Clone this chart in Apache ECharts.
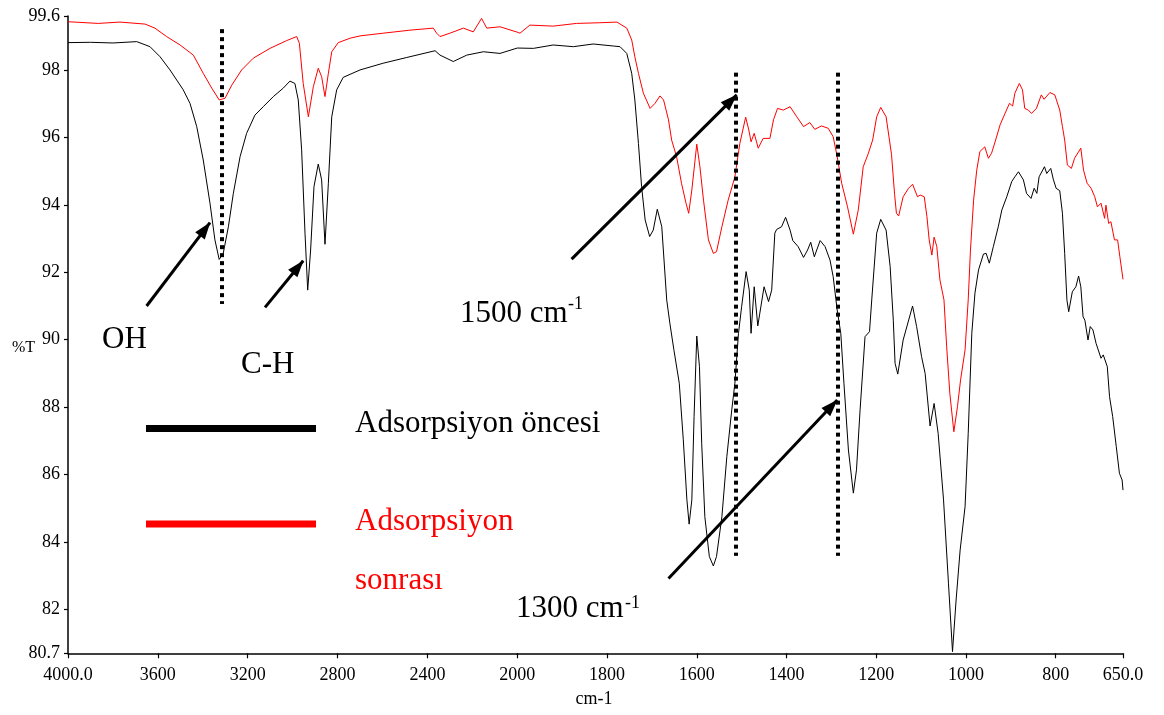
<!DOCTYPE html>
<html>
<head>
<meta charset="utf-8">
<script src="https://cdn.jsdelivr.net/npm/echarts@6/dist/echarts.min.js"></script>
<style>
  html, body { margin: 0; padding: 0; background: #fff; }
  #chart { width: 1164px; height: 715px; }
</style>
</head>
<body>
<div id="chart"></div>
<script>
// FTIR spectra, [wavenumber cm-1, %T]
const oncesi = [
  [4000, 98.81], [3900, 98.82], [3800, 98.80], [3694, 98.84], [3635, 98.69], [3590, 98.39],
  [3546, 98.00], [3487, 97.41], [3457, 97.01], [3427, 96.32], [3398, 95.33], [3368, 94.05],
  [3346, 92.96], [3327, 92.38], [3309, 92.56], [3286, 93.35], [3264, 94.34], [3234, 95.43],
  [3205, 96.12], [3168, 96.66], [3131, 96.91], [3086, 97.21], [3042, 97.46], [3012, 97.67],
  [2990, 97.60], [2975, 97.11], [2960, 95.63], [2945, 93.16], [2933, 91.47], [2920, 92.66],
  [2905, 94.54], [2886, 95.21], [2871, 94.74], [2856, 92.83], [2841, 94.64], [2826, 96.61],
  [2804, 97.41], [2775, 97.78], [2700, 98.00], [2597, 98.20], [2492, 98.37], [2366, 98.57],
  [2344, 98.44], [2285, 98.25], [2225, 98.44], [2151, 98.54], [2077, 98.49], [2000, 98.65],
  [1964, 98.64], [1920, 98.74], [1875, 98.69], [1831, 98.77], [1786, 98.71], [1771, 98.69],
  [1756, 98.49], [1745, 97.90], [1738, 97.11], [1730, 95.82], [1723, 94.54], [1715, 93.55],
  [1705, 93.06], [1697, 93.25], [1688, 93.87], [1678, 93.35], [1667, 91.18], [1660, 90.49],
  [1651, 89.70], [1639, 88.71], [1630, 87.03], [1622, 85.25], [1617, 84.53], [1611, 85.25],
  [1606, 87.72], [1600, 90.11], [1594, 89.20], [1589, 86.93], [1582, 84.75], [1572, 83.57],
  [1563, 83.29], [1556, 83.57], [1544, 84.75], [1533, 86.53], [1522, 87.92], [1515, 88.71],
  [1507, 90.19], [1500, 90.98], [1490, 92.02], [1483, 91.47], [1479, 90.19], [1472, 91.57],
  [1464, 90.41], [1450, 91.57], [1440, 91.13], [1433, 91.47], [1426, 93.16], [1422, 93.27],
  [1411, 93.35], [1402, 93.63], [1392, 93.25], [1386, 92.94], [1374, 92.76], [1362, 92.44],
  [1353, 92.66], [1346, 92.89], [1338, 92.46], [1325, 92.94], [1314, 92.76], [1303, 92.36],
  [1296, 91.87], [1287, 90.88], [1279, 90.19], [1272, 88.71], [1262, 86.73], [1251, 85.45],
  [1244, 86.14], [1236, 87.92], [1225, 90.09], [1215, 90.24], [1210, 91.18], [1199, 93.16],
  [1190, 93.57], [1178, 93.25], [1169, 92.17], [1162, 90.58], [1158, 89.30], [1152, 88.98],
  [1140, 89.99], [1119, 91.00], [1110, 90.39], [1099, 89.50], [1091, 89.00], [1080, 87.44],
  [1071, 88.11], [1062, 87.22], [1050, 85.25], [1039, 82.78], [1030, 80.75], [1022, 82.28],
  [1013, 83.76], [1002, 85.05], [995, 87.22], [987, 90.19], [980, 91.38], [972, 92.07],
  [961, 92.54], [955, 92.56], [948, 92.27], [939, 92.76], [928, 93.35], [920, 93.85],
  [909, 94.24], [898, 94.69], [891, 94.83], [883, 94.98], [872, 94.74], [865, 94.34],
  [855, 94.19], [848, 94.49], [842, 94.34], [837, 94.83], [825, 95.13], [820, 94.93],
  [811, 95.08], [805, 94.74], [799, 94.49], [791, 94.42], [785, 93.75], [780, 92.56],
  [775, 91.18], [771, 90.83], [763, 91.42], [755, 91.57], [749, 91.89], [744, 91.57],
  [739, 90.68], [735, 90.58], [728, 89.99], [723, 90.39], [717, 90.29], [710, 89.89],
  [699, 89.45], [694, 89.55], [685, 89.20], [680, 88.31], [673, 87.72], [665, 86.83],
  [658, 86.04], [652, 85.84], [650, 85.54]
]

const sonrasi = [
  [4000, 99.43], [3865, 99.38], [3769, 99.42], [3657, 99.36], [3613, 99.24], [3561, 98.99],
  [3501, 98.74], [3442, 98.44], [3398, 97.90], [3360, 97.46], [3327, 97.11], [3301, 97.16],
  [3271, 97.55], [3227, 98.00], [3175, 98.35], [3101, 98.64], [3027, 98.87], [2982, 98.99],
  [2970, 98.79], [2953, 97.60], [2930, 96.61], [2908, 97.50], [2886, 98.05], [2871, 97.80],
  [2856, 97.21], [2841, 97.90], [2826, 98.54], [2797, 98.81], [2745, 98.94], [2700, 99.01],
  [2597, 99.09], [2478, 99.18], [2374, 99.24], [2359, 99.09], [2344, 98.99], [2300, 99.09],
  [2240, 99.24], [2196, 99.13], [2159, 99.53], [2136, 99.24], [2077, 99.28], [2000, 99.12],
  [1994, 99.09], [1972, 99.33], [1920, 99.30], [1868, 99.38], [1816, 99.40], [1778, 99.42],
  [1756, 99.24], [1745, 98.89], [1738, 98.39], [1730, 97.90], [1719, 97.31], [1704, 96.86],
  [1693, 97.01], [1682, 97.23], [1674, 97.11], [1663, 96.52], [1656, 95.92], [1645, 95.43],
  [1634, 94.64], [1624, 94.05], [1618, 93.75], [1611, 94.44], [1600, 95.80], [1593, 95.13],
  [1585, 94.14], [1574, 92.96], [1563, 92.56], [1556, 92.61], [1544, 93.35], [1530, 94.14],
  [1515, 94.83], [1504, 95.82], [1491, 96.60], [1484, 96.22], [1479, 95.87], [1472, 96.12],
  [1463, 95.68], [1452, 95.97], [1437, 95.97], [1429, 96.52], [1420, 96.86], [1407, 96.81],
  [1392, 96.91], [1377, 96.61], [1362, 96.32], [1348, 96.44], [1337, 96.24], [1322, 96.34],
  [1307, 96.27], [1296, 96.02], [1287, 95.43], [1277, 94.64], [1264, 93.94], [1251, 93.13],
  [1240, 93.85], [1229, 95.13], [1218, 95.51], [1208, 95.92], [1199, 96.61], [1190, 96.89],
  [1178, 96.61], [1166, 95.50], [1159, 94.30], [1155, 93.75], [1150, 93.67], [1140, 94.24],
  [1128, 94.49], [1119, 94.61], [1108, 94.24], [1102, 94.29], [1093, 94.24], [1087, 93.65],
  [1082, 92.96], [1076, 92.51], [1071, 93.04], [1065, 92.76], [1058, 91.77], [1049, 91.18],
  [1043, 89.79], [1036, 88.41], [1027, 87.27], [1019, 88.01], [1012, 88.81], [1002, 89.70],
  [995, 91.18], [990, 92.66], [983, 94.14], [976, 95.03], [969, 95.58], [958, 95.72],
  [950, 95.38], [943, 95.53], [935, 95.87], [924, 96.37], [913, 96.71], [903, 97.01],
  [896, 96.93], [891, 97.31], [881, 97.60], [874, 97.41], [869, 96.86], [861, 96.81],
  [854, 96.71], [843, 96.86], [832, 97.26], [826, 97.13], [813, 97.33], [802, 97.26],
  [791, 96.81], [785, 96.32], [780, 95.92], [774, 95.18], [765, 95.08], [758, 95.38],
  [744, 95.68], [738, 95.03], [730, 94.64], [721, 94.49], [713, 94.24], [707, 93.94],
  [699, 94.05], [691, 93.60], [688, 93.99], [682, 93.45], [677, 93.50], [669, 92.96],
  [662, 92.96], [657, 92.46], [650, 91.79]
]

// axis ticks (the x scale is expanded 2x below 2000 cm-1)
const yTicks = [80.7, 82, 84, 86, 88, 90, 92, 94, 96, 98, 99.6]
const xTicksHigh = [2000, 2400, 2800, 3200, 3600, 4000]
const xTicksLow = [1800, 1600, 1400, 1200, 1000, 800, 650]

const FONT = '"Liberation Serif", "Times New Roman", serif'

// split at 2000 so each half uses its own scale
const high = s => s.filter(p => p[0] >= 2000)
const low = s => s.filter(p => p[0] <= 2000)

const dotted = { color: '#000', width: 4, type: [4, 4], cap: 'butt' }
const arrowLine = { color: '#000', width: 3, type: 'solid' }

function vline(wn, y1, y2) {
  return [{ coord: [wn, y1], symbol: 'none', lineStyle: dotted }, { coord: [wn, y2], symbol: 'none' }]
}
function arrow(x1, y1, x2, y2) {
  return [{ coord: [x1, y1], symbol: 'none', lineStyle: arrowLine }, { coord: [x2, y2], symbol: 'triangle' }]
}

const axisLine = { lineStyle: { color: '#000', width: 1.5 } }
const axisTick = { length: 5, lineStyle: { color: '#000', width: 1.2 } }
const labelStyle = { color: '#000', fontFamily: FONT, fontSize: 18 }
const fmtX = v => (v === 4000 || v === 650) ? v.toFixed(1) : String(v)

const chart = echarts.init(document.getElementById('chart'))

chart.setOption({
  animation: false,
  backgroundColor: '#fff',
  grid: [
    { left: 68, top: 16, width: 449.3, height: 637.3 },
    { left: 517.3, top: 16, width: 605.7, height: 637.3 }
  ],
  xAxis: [
    {
      gridIndex: 0, type: 'value', min: 2000, max: 4000, interval: 400, inverse: true,
      axisLine, axisTick, splitLine: { show: false },
      axisLabel: { ...labelStyle, margin: 13, formatter: fmtX, showMinLabel: true, showMaxLabel: true,
        customValues: xTicksHigh },
    },
    {
      gridIndex: 1, type: 'value', min: 650, max: 2000, inverse: true,
      axisLine, splitLine: { show: false },
      axisTick: { ...axisTick, customValues: xTicksLow },
      axisLabel: { ...labelStyle, margin: 13, formatter: fmtX, customValues: xTicksLow }
    }
  ],
  yAxis: [
    {
      gridIndex: 0, type: 'value', min: 80.7, max: 99.6,
      axisLine: { show: true, ...axisLine },
      axisTick: { show: true, length: 4, lineStyle: { color: '#000', width: 1.2 }, customValues: yTicks },
      axisLabel: { ...labelStyle, margin: 8, customValues: yTicks, formatter: v => String(v) },
      splitLine: { show: false }
    },
    { gridIndex: 1, type: 'value', min: 80.7, max: 99.6, show: false }
  ],
  series: [
    {
      name: 'Adsorpsiyon öncesi', type: 'line', xAxisIndex: 0, yAxisIndex: 0,
      data: high(oncesi), showSymbol: false, lineStyle: { color: '#000', width: 1 },
      silent: true,
      markLine: {
        silent: true, label: { show: false }, symbolSize: [12, 17], symbolOffset: [0, [0, 8]],
        data: [vline(3316, 99.21, 91.06), arrow(3650, 91.0, 3368, 93.47), arrow(3123, 90.96, 2953, 92.34)]
      }
    },
    {
      name: 'Adsorpsiyon sonrası', type: 'line', xAxisIndex: 0, yAxisIndex: 0,
      data: high(sonrasi), showSymbol: false, lineStyle: { color: '#ff0000', width: 1 }, silent: true
    },
    {
      name: 'Adsorpsiyon öncesi', type: 'line', xAxisIndex: 1, yAxisIndex: 1,
      data: low(oncesi), showSymbol: false, lineStyle: { color: '#000', width: 1 }, silent: true
    },
    {
      name: 'Adsorpsiyon sonrası', type: 'line', xAxisIndex: 1, yAxisIndex: 1,
      data: low(sonrasi), showSymbol: false, lineStyle: { color: '#ff0000', width: 1 },
      silent: true,
      markLine: {
        silent: true, label: { show: false }, symbolSize: [12, 17], symbolOffset: [0, [0, 8]],
        data: [vline(1513, 97.92, 83.59), vline(1285, 97.92, 83.59),
          arrow(1879, 92.39, 1511, 97.26), arrow(1663, 82.92, 1287, 88.21)]
      }
    }
  ],
  graphic: [
    { type: 'text', x: 12, y: 348, style: { text: '%T', fontFamily: FONT, fontSize: 16, fill: '#000', verticalAlign: 'middle' } },
    { type: 'text', x: 594, y: 699, style: { text: 'cm-1', fontFamily: FONT, fontSize: 18, fill: '#000', align: 'center', verticalAlign: 'middle' } },
    { type: 'text', x: 102, y: 340, style: { text: 'OH', fontFamily: FONT, fontSize: 31, fill: '#000', verticalAlign: 'middle' } },
    { type: 'text', x: 241, y: 365, style: { text: 'C-H', fontFamily: FONT, fontSize: 31, fill: '#000', verticalAlign: 'middle' } },
    { type: 'text', x: 460, y: 314, style: { text: '1500 cm', fontFamily: FONT, fontSize: 31, fill: '#000', verticalAlign: 'middle' } },
    { type: 'text', x: 568, y: 304, style: { text: '-1', fontFamily: FONT, fontSize: 18, fill: '#000', verticalAlign: 'middle' } },
    { type: 'text', x: 516, y: 609, style: { text: '1300 cm', fontFamily: FONT, fontSize: 31, fill: '#000', verticalAlign: 'middle' } },
    { type: 'text', x: 625, y: 603, style: { text: '-1', fontFamily: FONT, fontSize: 18, fill: '#000', verticalAlign: 'middle' } },
    // legend
    { type: 'line', shape: { x1: 146, y1: 428.5, x2: 316, y2: 428.5 }, style: { stroke: '#000', lineWidth: 7 } },
    { type: 'text', x: 355, y: 424, style: { text: 'Adsorpsiyon öncesi', fontFamily: FONT, fontSize: 31, fill: '#000', verticalAlign: 'middle' } },
    { type: 'line', shape: { x1: 146, y1: 524, x2: 316, y2: 524 }, style: { stroke: '#ff0000', lineWidth: 7 } },
    { type: 'text', x: 355, y: 522, style: { text: 'Adsorpsiyon', fontFamily: FONT, fontSize: 31, fill: '#ff0000', verticalAlign: 'middle' } },
    { type: 'text', x: 355, y: 581, style: { text: 'sonrası', fontFamily: FONT, fontSize: 31, fill: '#ff0000', verticalAlign: 'middle' } }
  ]
})
</script>
</body>
</html>
